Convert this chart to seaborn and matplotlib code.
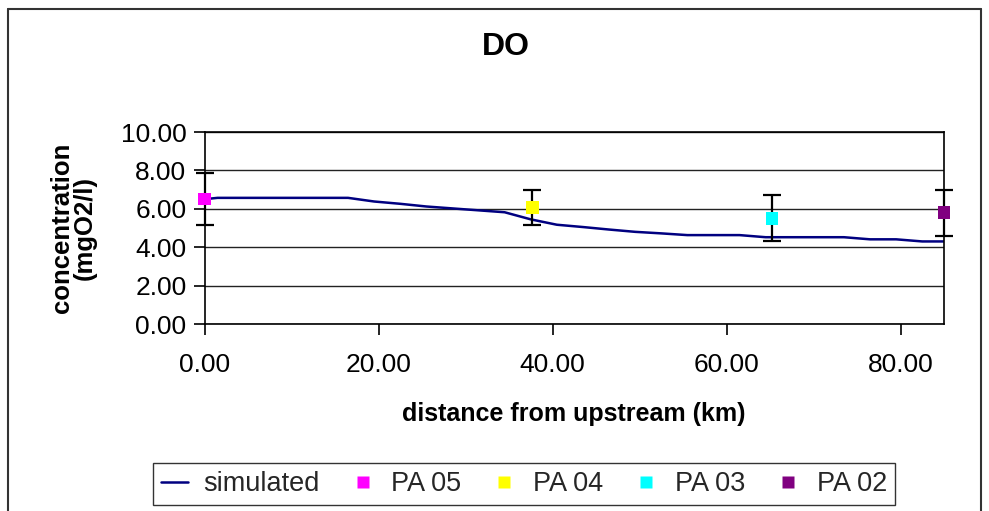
import matplotlib
matplotlib.use("Agg")
import matplotlib.pyplot as plt
import seaborn as sns
import pandas as pd
from matplotlib.lines import Line2D

sns.set_theme(style="white")
plt.rcParams['font.family'] = ['Liberation Sans', 'DejaVu Sans']

# Simulated dissolved oxygen along the river (km from upstream, mg O2/l)
sim_km = [0.0, 1.5, 4.5, 7.5, 10.5, 13.5, 16.5, 19.5, 22.5, 25.5, 28.5, 31.5,
          34.5, 37.5, 40.5, 43.5, 46.5, 49.5, 52.5, 55.5, 58.5, 61.5, 64.5,
          67.5, 70.5, 73.5, 76.5, 79.5, 82.5, 85.0]
sim_do = [6.50, 6.57, 6.57, 6.57, 6.57, 6.57, 6.57, 6.38, 6.26, 6.12, 6.02, 5.92,
          5.82, 5.45, 5.17, 5.05, 4.92, 4.80, 4.72, 4.63, 4.63, 4.63, 4.52,
          4.52, 4.52, 4.52, 4.41, 4.41, 4.30, 4.30]

# Measured stations with their spread
stations = ["PA 05", "PA 04", "PA 03", "PA 02"]
obs_km = [0.0, 37.7, 65.2, 85.0]
obs_do = [6.50, 6.07, 5.50, 5.80]
obs_err = [1.35, 0.90, 1.20, 1.20]
station_colors = ["#FF00FF", "#FFFF00", "#00FFFF", "#800080"]

x_ticks = [0, 20, 40, 60, 80]
y_ticks = [0, 2, 4, 6, 8, 10]

W, H = 989, 511
fig = plt.figure(figsize=(W / 100, H / 100), dpi=100)
fig.patch.set_facecolor("white")
ax = fig.add_axes([204.5 / W, 1 - 324 / H, (944 - 204.5) / W, (324 - 132) / H])

sim = pd.DataFrame({"km": sim_km, "do": sim_do})
obs = pd.DataFrame({"km": obs_km, "do": obs_do, "station": stations})

ax.yaxis.grid(True, color="#222222", linewidth=1.0, zorder=0)
ax.xaxis.grid(False)

sns.lineplot(data=sim, x="km", y="do", ax=ax, color="#000080", linewidth=1.8,
             zorder=2, legend=False)
ax.errorbar(obs_km, obs_do, yerr=obs_err, fmt="none", ecolor="black",
            elinewidth=1.6, capsize=6.2, capthick=1.6, zorder=3, clip_on=False)
sns.scatterplot(data=obs, x="km", y="do", hue="station",
                palette=dict(zip(stations, station_colors)), marker="s", s=80,
                edgecolor="none", linewidth=0, ax=ax, legend=False, zorder=4,
                clip_on=False)

ax.set_xlim(0, 85)
ax.set_ylim(0, 10)
ax.set_xticks(x_ticks)
ax.set_xticklabels([f"{v:.2f}" for v in x_ticks])
ax.set_yticks(y_ticks)
ax.set_yticklabels([f"{v:.2f}" for v in y_ticks])
ax.tick_params(axis="both", direction="out", length=8, width=1.2, color="black",
               labelsize=19, labelcolor="black")
ax.tick_params(axis="x", pad=13)
ax.tick_params(axis="y", pad=5)
ax.tick_params(bottom=True, left=True)
for side in ["left", "right", "bottom", "top"]:
    ax.spines[side].set_visible(True)
    ax.spines[side].set_color("black")
    ax.spines[side].set_linewidth(1.2)

ax.set_xlabel("distance from upstream (km)", fontsize=18, fontweight="bold",
              color="black", labelpad=18)
ax.set_ylabel("concentration\n(mgO2/l)", fontsize=18.5, fontweight="bold",
              color="black", linespacing=0.9)
ax.yaxis.set_label_coords(-0.146, 0.50)

fig.text(506 / W, 1 - 47 / H, "DO", fontsize=23, fontweight="bold",
         ha="center", va="center", color="black")

handles = [Line2D([0], [0], color="#000080", linewidth=1.8)]
for c in station_colors:
    handles.append(Line2D([0], [0], linestyle="none", marker="s", markersize=8,
                          markerfacecolor=c, markeredgecolor="none"))
labels = ["simulated"] + stations
leg = fig.legend(handles, labels, loc="center", ncol=5,
                 bbox_to_anchor=(524 / W, 1 - 484 / H), fontsize=19.5,
                 frameon=True, fancybox=False, shadow=False, handlelength=1.0,
                 handletextpad=0.55, columnspacing=1.1, borderpad=0.3,
                 borderaxespad=0)
leg.get_frame().set_edgecolor("black")
leg.get_frame().set_linewidth(1.0)

# Chart area border
border = dict(color="#333333", linewidth=1.5, transform=fig.transFigure)
fig.add_artist(Line2D([8 / W, 8 / W], [0, 1 - 9 / H], **border))
fig.add_artist(Line2D([8 / W, 981 / W], [1 - 9 / H, 1 - 9 / H], **border))
fig.add_artist(Line2D([981 / W, 981 / W], [0, 1 - 9 / H], **border))

fig.savefig("out.png", dpi=100)
